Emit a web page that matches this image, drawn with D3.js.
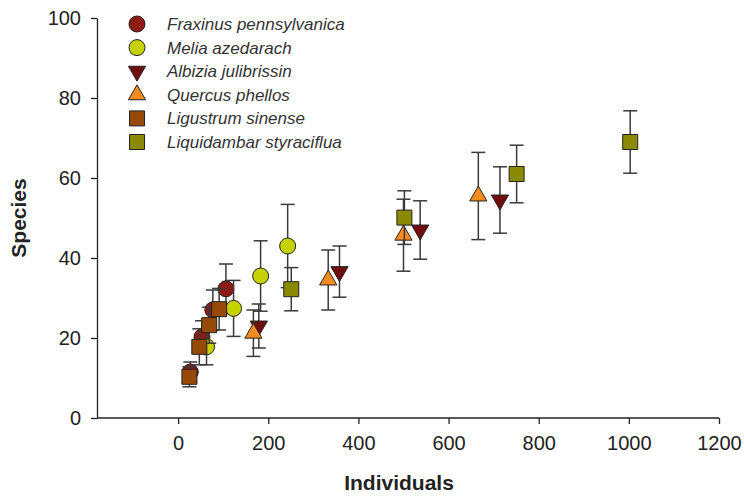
<!DOCTYPE html>
<html>
<head>
<meta charset="utf-8">
<script src="https://cdn.jsdelivr.net/npm/d3@7"></script>
<style>
  body { margin: 0; background: #fff; }
  svg { font-family: "Liberation Sans", Arial, sans-serif; }
</style>
</head>
<body>
<svg id="chart" width="744" height="497"></svg>
<script>
// species names, legend order
const speciesNames = ["Fraxinus pennsylvanica", "Melia azedarach", "Albizia julibrissin",
                      "Quercus phellos", "Ligustrum sinense", "Liquidambar styraciflua"];

// individuals (x), species (y), error (+/-) for each species
const fraxinusX = [27, 53, 77, 106];
const fraxinusY = [11.5, 20.3, 27, 32.3];
const fraxinusErr = [2.5, 4, 5, 6.2];

const meliaX = [63, 123, 183, 243];
const meliaY = [17.8, 27.4, 35.5, 43];
const meliaErr = [4.5, 7, 8.8, 10.4];

const albiziaX = [179, 358, 537, 714];
const albiziaY = [23, 36.6, 47, 54.5];
const albiziaErr = [5.5, 6.4, 7.3, 8.3];

const quercusX = [167, 333, 500, 666];
const quercusY = [21.2, 34.5, 45.7, 55.5];
const quercusErr = [5.8, 7.5, 9, 10.9];

const ligustrumX = [25, 47, 69, 91];
const ligustrumY = [10.3, 17.8, 23.2, 27.2];
const ligustrumErr = [2.5, 4.5, 4.5, 5.2];

const liquidambarX = [251, 502, 751, 1003];
const liquidambarY = [32.2, 50.1, 61, 69];
const liquidambarErr = [5.4, 6.7, 7.2, 7.8];

const xTicks = [0, 200, 400, 600, 800, 1000, 1200];
const yTicks = [0, 20, 40, 60, 80, 100];

const svg = d3.select("#chart");

const x = d3.scaleLinear().domain([-180, 1200]).range([97, 719]);
const y = d3.scaleLinear().domain([0, 100]).range([418, 18]);

const series = [
    { name: speciesNames[0], xs: fraxinusX, ys: fraxinusY, es: fraxinusErr, shape: "circle", fill: "#8e1b14" },
    { name: speciesNames[1], xs: meliaX, ys: meliaY, es: meliaErr, shape: "circle", fill: "#c6d100" },
    { name: speciesNames[2], xs: albiziaX, ys: albiziaY, es: albiziaErr, shape: "down", fill: "#700d0d" },
    { name: speciesNames[3], xs: quercusX, ys: quercusY, es: quercusErr, shape: "up", fill: "#f68b1f" },
    { name: speciesNames[4], xs: ligustrumX, ys: ligustrumY, es: ligustrumErr, shape: "square", fill: "#974a07" },
    { name: speciesNames[5], xs: liquidambarX, ys: liquidambarY, es: liquidambarErr, shape: "square", fill: "#8a8a05" }
];

function symbolPath(shape) {
    if (shape === "circle") return d3.symbol(d3.symbolCircle, 201)();
    if (shape === "square") return d3.symbol(d3.symbolSquare, 225)();
    return d3.symbol(d3.symbolTriangle, 128)();
}
function symbolTransform(shape, px, py) {
    return shape === "down" ? `translate(${px},${py}) rotate(180)` : `translate(${px},${py})`;
}

// axes
const xAxis = svg.append("g")
    .attr("transform", "translate(0,418)")
    .call(d3.axisBottom(x).tickValues(xTicks).tickFormat(d3.format("d"))
        .tickSize(6).tickSizeOuter(0).tickPadding(12));
const yAxis = svg.append("g")
    .attr("transform", "translate(97,0)")
    .call(d3.axisLeft(y).tickValues(yTicks).tickFormat(d3.format("d"))
        .tickSize(6).tickSizeOuter(0).tickPadding(10));

[xAxis, yAxis].forEach(a => {
    a.select(".domain").attr("stroke", "#222").attr("stroke-width", 1.3);
    a.selectAll(".tick line").attr("stroke", "#222").attr("stroke-width", 1.3);
    a.selectAll(".tick text")
        .attr("fill", "#222")
        .style("font-size", "20px")
        .style("font-family", "'Liberation Sans', Arial, sans-serif");
});
// x axis line starts at the y axis
xAxis.select(".domain").attr("d", `M${x(-180)},0H${x(1200)}`);

svg.append("text")
    .attr("x", 399).attr("y", 490)
    .attr("text-anchor", "middle")
    .style("font-weight", "bold").style("font-size", "21px").attr("fill", "#222")
    .text("Individuals");

svg.append("text")
    .attr("transform", `translate(26,218) rotate(-90)`)
    .attr("text-anchor", "middle")
    .style("font-weight", "bold").style("font-size", "21px").attr("fill", "#222")
    .text("Species");

// points with error bars
const plot = svg.append("g");
series.forEach(s => {
    const pts = s.xs.map((v, i) => ({ x: v, y: s.ys[i], e: s.es[i] }));
    const g = plot.append("g");
    const bars = g.selectAll(".err").data(pts).join("g").attr("class", "err")
        .attr("stroke", "#3a3a3a").attr("stroke-width", 1.5).attr("fill", "none");
    bars.append("line")
        .attr("x1", d => x(d.x)).attr("x2", d => x(d.x))
        .attr("y1", d => y(d.y + d.e)).attr("y2", d => y(d.y - d.e));
    bars.append("line")
        .attr("x1", d => x(d.x) - 7).attr("x2", d => x(d.x) + 7)
        .attr("y1", d => y(d.y + d.e)).attr("y2", d => y(d.y + d.e));
    bars.append("line")
        .attr("x1", d => x(d.x) - 7).attr("x2", d => x(d.x) + 7)
        .attr("y1", d => y(d.y - d.e)).attr("y2", d => y(d.y - d.e));
    g.selectAll(".pt").data(pts).join("path").attr("class", "pt")
        .attr("d", symbolPath(s.shape))
        .attr("transform", d => symbolTransform(s.shape, x(d.x), y(d.y)))
        .attr("fill", s.fill).attr("stroke", "#222").attr("stroke-width", 1);
});

// legend
const legend = svg.selectAll(".legend").data(series).join("g")
    .attr("class", "legend")
    .attr("transform", (d, i) => `translate(137,${24 + i * 23.6})`);
legend.append("path")
    .attr("d", d => symbolPath(d.shape))
    .attr("transform", d => d.shape === "down" ? "rotate(180)" : null)
    .attr("fill", d => d.fill).attr("stroke", "#222").attr("stroke-width", 1);
legend.append("text")
    .attr("x", 30).attr("dy", "0.35em")
    .style("font-style", "italic").style("font-size", "17px").attr("fill", "#333")
    .text(d => d.name);
</script>
</body>
</html>
